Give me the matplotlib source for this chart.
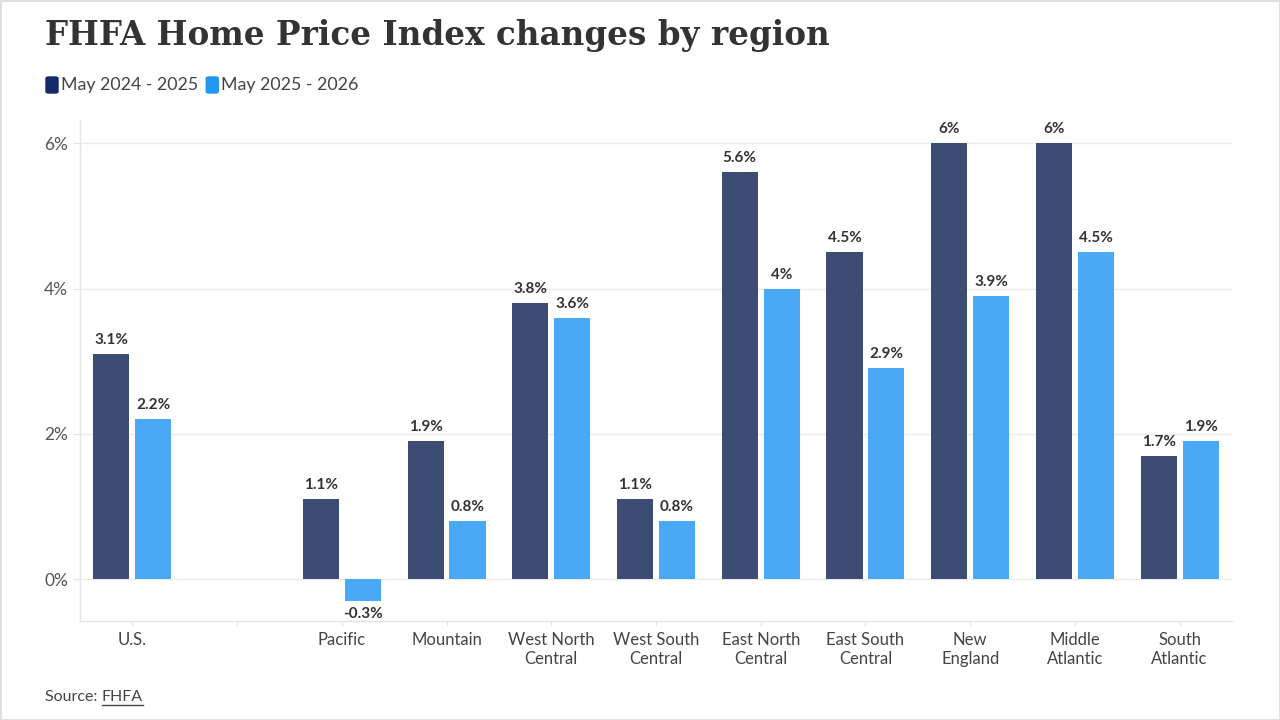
import matplotlib
matplotlib.use("Agg")
import matplotlib.pyplot as plt
from matplotlib.patches import FancyBboxPatch, Rectangle
import numpy as np

categories = ["U.S.", "", "Pacific", "Mountain", "West North\nCentral", "West South\nCentral",
              "East North\nCentral", "East South\nCentral", "New\nEngland", "Middle\nAtlantic",
              "South\nAtlantic"]
series_names = ["May 2024 - 2025", "May 2025 - 2026"]
s2024 = [3.1, None, 1.1, 1.9, 3.8, 1.1, 5.6, 4.5, 6.0, 6.0, 1.7]
s2025 = [2.2, None, -0.3, 0.8, 3.6, 0.8, 4.0, 2.9, 3.9, 4.5, 1.9]
yticks = [0, 2, 4, 6]

dark = "#3d4c72"
light = "#4aa9f6"
leg_dark = "#142a68"
leg_light = "#2196f3"

fig = plt.figure(figsize=(12.8, 7.2), dpi=100)
ax = fig.add_axes([80/1280, 1-621/720, (1232-80)/1280, (621-120)/720])

x = np.arange(len(categories))
w = 0.345
off = 0.2

def fmt(v):
    s = f"{v:.1f}"
    if s.endswith(".0"):
        s = s[:-2]
    return s + "%"

for vals, col, sgn in [(s2024, dark, -1), (s2025, light, 1)]:
    for xi, v in zip(x, vals):
        if v is None:
            continue
        ax.bar(xi + sgn*off, v, width=w, color=col, zorder=3)
        if v >= 0:
            ax.annotate(fmt(v), (xi + sgn*off, v), xytext=(0, 5), textcoords="offset points",
                        ha="center", va="bottom", fontsize=11, fontweight="bold",
                        family="Lato", color="#333333")
        else:
            ax.annotate(fmt(v), (xi + sgn*off, v), xytext=(0, -4.5), textcoords="offset points",
                        ha="center", va="top", fontsize=11, fontweight="bold",
                        family="Lato", color="#333333")

ax.set_xlim(-0.5, 10.5)
ax.set_ylim(-0.578, 6.32)
ax.set_yticks(yticks)
ax.set_yticklabels([f"{t}%" for t in yticks], family="Lato", fontsize=12.5, color="#555555")
ax.set_xticks(x)
ax.set_xticklabels(categories, family="Lato", fontsize=12, color="#444444", linespacing=1.22)
ax.grid(axis="y", color="#ececec", linewidth=1, zorder=0)
for s in ["top", "right"]:
    ax.spines[s].set_visible(False)
for s in ["left", "bottom"]:
    ax.spines[s].set_color("#e4e4e4")
    ax.spines[s].set_linewidth(1)
ax.tick_params(axis="y", length=5, color="#e4e4e4", pad=3.5)
ax.tick_params(axis="x", length=3.6, color="#e4e4e4", pad=4.5)

# Title
fig.text(45/1280, 1-35/720, "FHFA Home Price Index changes by region", family="DejaVu Serif",
         fontweight="bold", fontsize=23.5, color="#333333", va="center", ha="left")

# Legend
lx = 45
ly = 85
for name, col in zip(series_names, [leg_dark, leg_light]):
    fig.patches.append(FancyBboxPatch(((lx+1)/1280, 1-(ly+8)/720), 12/1280, 16/720,
                                      boxstyle="round,pad=0,rounding_size=0.002",
                                      transform=fig.transFigure, color=col))
    t = fig.text((lx+16)/1280, 1-ly/720, name, family="Lato", fontsize=12.8, color="#444444",
                 va="center", ha="left")
    fig.canvas.draw()
    bb = t.get_window_extent()
    lx = bb.x1 + 7

# Source
t1 = fig.text(45/1280, 1-697/720, "Source: ", family="Lato", fontsize=11.5, color="#444444",
              va="center", ha="left")
fig.canvas.draw()
bb = t1.get_window_extent()
t2 = fig.text(bb.x1/1280, 1-697/720, "FHFA", family="Lato", fontsize=11.5, color="#444444",
              va="center", ha="left")
fig.canvas.draw()
bb2 = t2.get_window_extent()
fig.add_artist(plt.Line2D([bb2.x0/1280, bb2.x1/1280], [1-705/720, 1-705/720],
                          transform=fig.transFigure, color="#444444", linewidth=1))

# frame
fig.patches.append(Rectangle((0, 0), 1, 1, transform=fig.transFigure, fill=False,
                             edgecolor="#dddddd", linewidth=2))

fig.savefig("out.png", dpi=100)
